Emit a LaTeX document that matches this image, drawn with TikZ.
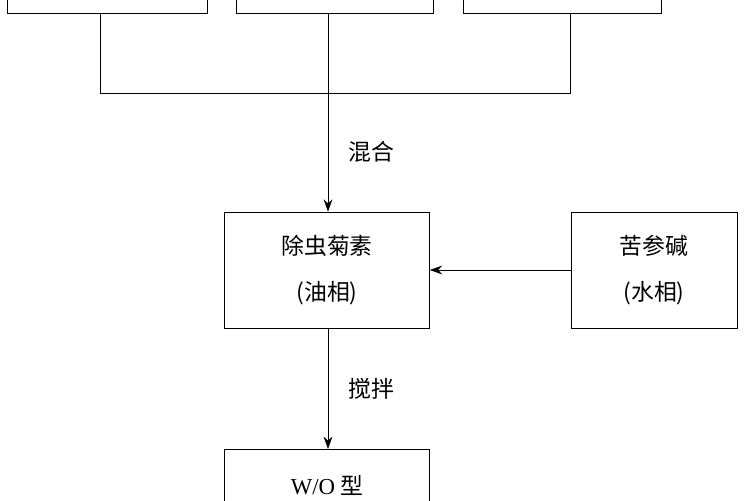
\documentclass[tikz,border=0pt]{standalone}
\usepackage{fontspec}
\setmainfont{Liberation Serif}
\newfontfamily\cjk{Noto Sans CJK SC}
\usetikzlibrary{arrows.meta, positioning}

\begin{document}
\begin{tikzpicture}[
    x=0.02cm, y=-0.02cm,
    box/.style={rectangle, draw, thin, minimum width=4.1cm, minimum height=2.32cm, align=center, font=\cjk\fontsize{13}{26}\selectfont},
    topbox/.style={rectangle, draw, thin, minimum width=4cm, minimum height=1cm},
    arrow/.style={-{Stealth[length=7pt,width=5pt]}, thin},
    lbl/.style={font=\cjk\fontsize{13}{16}\selectfont}
]
    \useasboundingbox (0,0) rectangle (750,500);
    % top row, cut off by the frame
    \node[topbox, minimum width=4cm] (srca) at (107,-12) {};
    \node[topbox, minimum width=3.94cm] (srcb) at (335,-12) {};
    \node[topbox, minimum width=3.96cm] (srcc) at (562,-12) {};
    \coordinate (joinl) at (100,93);
    \coordinate (joinm) at (328,93);
    \coordinate (joinr) at (570,93);

    \node[box] (oil) at (327,270) {除虫菊素\\(油相)};
    \node[box, minimum width=3.32cm] (water) at (654,270) {苦参碱\\(水相)};
    \node[box, anchor=north] (emul) at (327,449) {{\rmfamily W/O} 型\\ };

    \draw (srca.south -| joinl) -- (joinl) -- (joinr) -- (srcc.south -| joinr);
    \draw[arrow] (srcb.south -| joinm) -- node[lbl, right=8pt, pos=0.7] {混合} (oil.north -| joinm);
    \draw[arrow] (water.west) -- (oil.east);
    \draw[arrow] (oil.south -| joinm) -- node[lbl, right=8pt] {搅拌} (emul.north -| joinm);
\end{tikzpicture}
\end{document}
